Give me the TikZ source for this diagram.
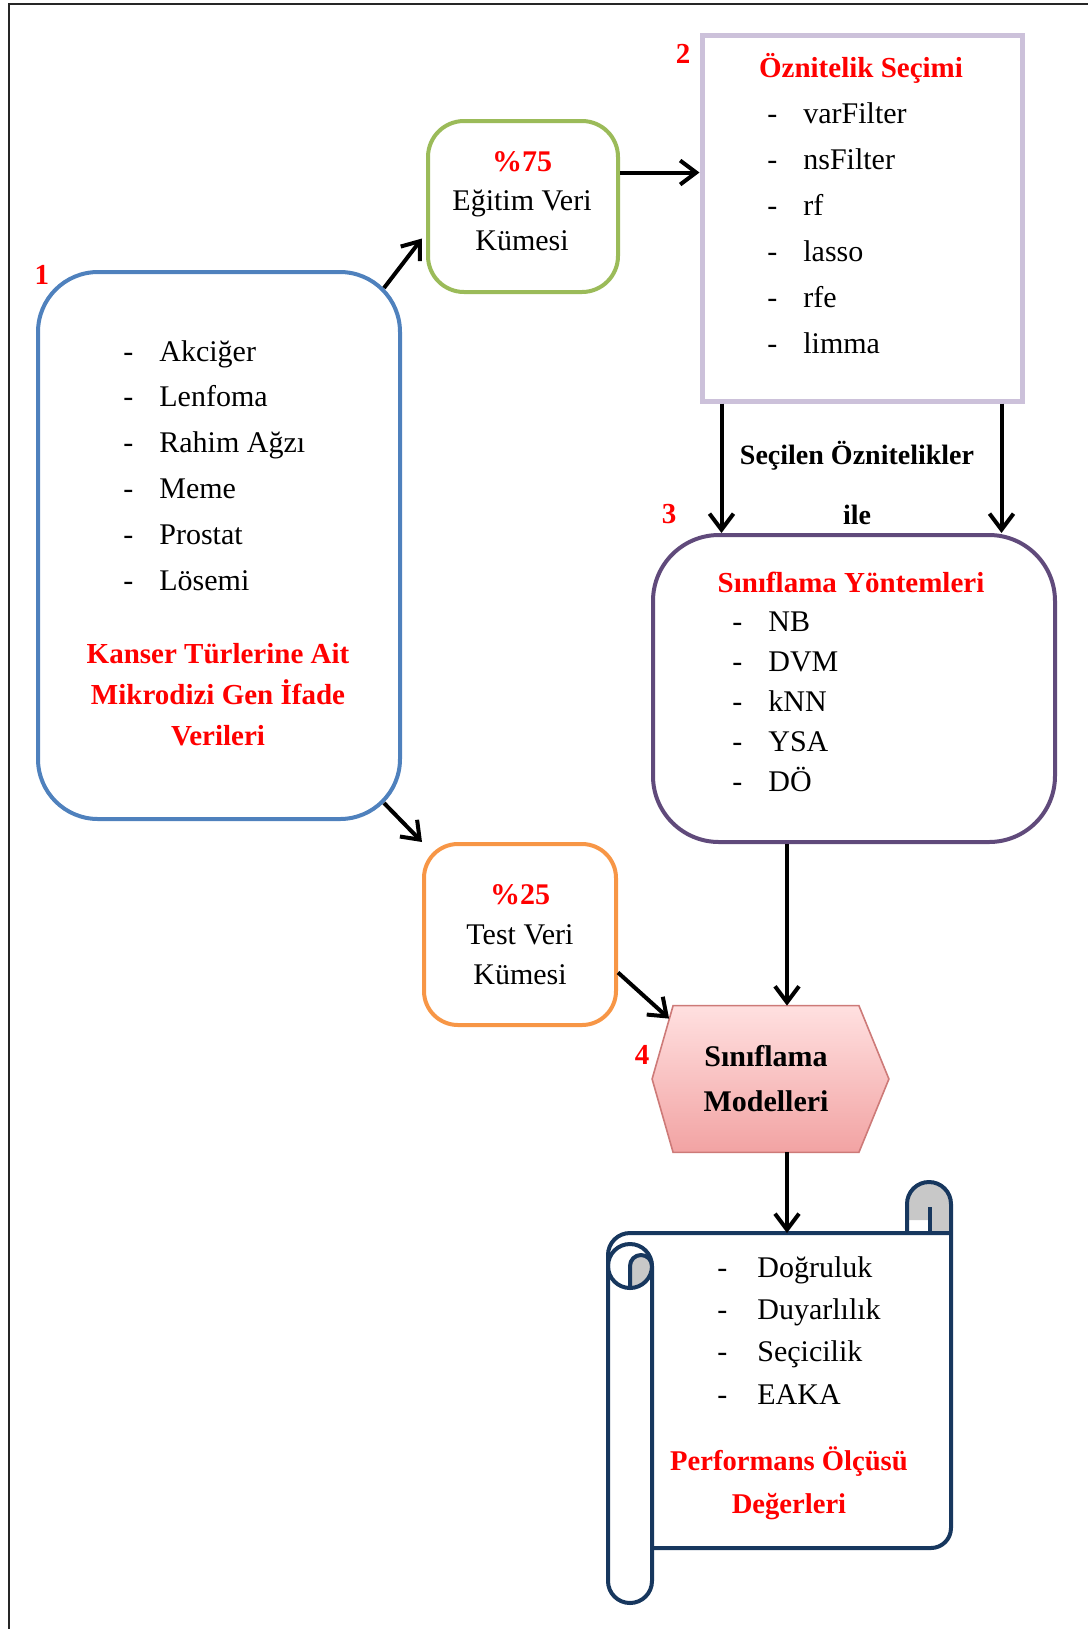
\documentclass[tikz,border=0pt]{standalone}
\usepackage{fontspec}
\setmainfont{Liberation Serif}
\usepackage{tikz}
\usetikzlibrary{arrows.meta,calc,backgrounds}
\usepackage{xcolor}

\definecolor{veriblue}{RGB}{79,129,189}
\definecolor{egitimgreen}{RGB}{155,187,89}
\definecolor{secimlav}{RGB}{204,193,218}
\definecolor{yontempurple}{RGB}{96,74,123}
\definecolor{testorange}{RGB}{247,150,70}
\definecolor{scrollnavy}{RGB}{23,55,94}
\definecolor{rollgray}{RGB}{200,200,200}
\definecolor{hextop}{RGB}{255,224,224}
\definecolor{hexbot}{RGB}{242,163,163}
\definecolor{hexline}{RGB}{205,122,120}

% dash list: dash column, then item
\newcommand{\maddeler}[2]{\begin{tabular}[t]{@{}p{#1}@{}l@{}}#2\end{tabular}}

\begin{document}
\begin{tikzpicture}[x=0.5pt, y=-0.5pt,
    arr/.style={-{Straight Barb[length=8pt,width=12pt]}, line width=2pt},
    txt/.style={inner sep=0pt, font=\fontsize{15}{20.5}\selectfont},
    redtitle/.style={inner sep=0pt, text=red, font=\bfseries\fontsize{14.5}{18.25}\selectfont},
    scrl/.style={draw=scrollnavy, line width=2pt, line join=round}]
    \useasboundingbox (0,0) rectangle (1088,1629);
    % frame
    \draw[line width=1pt, black!85] (9,1629) -- (9,4) -- (1088,4);

    % Veri
    \node[draw=veriblue, line width=2pt, rounded corners=30pt, minimum width=181pt, minimum height=273.5pt] (veri) at (219,545.5) {};
    \node[txt, anchor=base west, font=\fontsize{15}{22.9}\selectfont] (kanserlist) at (123,361) {\maddeler{18pt}{- & Akciğer\\ - & Lenfoma\\ - & Rahim Ağzı\\ - & Meme\\ - & Prostat\\ - & Lösemi}};
    \node[redtitle, anchor=base, font=\bfseries\fontsize{14.5}{20.5}\selectfont] (kansertitle) at (218,663) {\begin{tabular}[t]{@{}c@{}}Kanser Türlerine Ait\\ Mikrodizi Gen İfade\\ Verileri\end{tabular}};
    \node[redtitle] (no1) at (42,275) {1};

    % Egitim / Test
    \node[draw=egitimgreen, line width=2pt, rounded corners=18pt, minimum width=95pt, minimum height=85.5pt] (egitim) at (523,206.5) {};
    \node[align=center, inner sep=0pt, font=\fontsize{15}{19.75}\selectfont] (egitimtxt) at (522,201) {\textcolor{red}{\textbf{\%75}}\\ Eğitim Veri\\ Kümesi};
    \node[draw=testorange, line width=2pt, rounded corners=17pt, minimum width=96pt, minimum height=90.5pt, align=center, font=\fontsize{15}{20}\selectfont] (test) at (520,934.5) {\textcolor{red}{\textbf{\%25}}\\ Test Veri\\ Kümesi};

    % Oznitelik secimi
    \node[draw=secimlav, line width=2.5pt, minimum width=160pt, minimum height=183pt] (secim) at (862,218) {};
    \node[redtitle, anchor=base] (secimtitle) at (861,77) {Öznitelik Seçimi};
    \node[txt, anchor=base west, font=\fontsize{15}{23}\selectfont] (secimlist) at (767,123) {\maddeler{18pt}{- & varFilter\\ - & nsFilter\\ - & rf\\ - & lasso\\ - & rfe\\ - & limma}};
    \node[redtitle] (no2) at (683,54) {2};
    \node[inner sep=0pt, anchor=base, font=\bfseries\fontsize{14}{30}\selectfont] (secilen) at (857,464) {\begin{tabular}[t]{@{}c@{}}Seçilen Öznitelikler\\ ile\end{tabular}};

    % Siniflama yontemleri
    \node[draw=yontempurple, line width=2pt, rounded corners=33pt, minimum width=201pt, minimum height=153.5pt] (yontem) at (854,688.5) {};
    \node[redtitle, anchor=base] (yontemtitle) at (851,592) {Sınıflama Yöntemleri};
    \node[txt, anchor=base west, font=\fontsize{15}{20}\selectfont] (yontemlist) at (732,631) {\maddeler{18pt}{- & NB\\ - & DVM\\ - & kNN\\ - & YSA\\ - & DÖ}};
    \node[redtitle] (no3) at (669,514) {3};

    % Modeller
    \node[minimum width=92.5pt, minimum height=73pt, align=center, font=\bfseries\fontsize{15}{22.5}\selectfont] (model) at (766,1079) {Sınıflama\\ Modelleri};
    \begin{scope}[on background layer]
        \draw[hexline, line width=0.8pt, top color=hextop, bottom color=hexbot] (model.north west) -- (model.north east) -- ([xshift=15pt]model.east) -- (model.south east) -- (model.south west) -- ([xshift=-10.5pt]model.west) -- cycle;
    \end{scope}
    \node[redtitle] (no4) at (642,1055) {4};

    % Performans (scroll)
    \fill[rollgray] (907,1220) -- (907,1204) arc[start angle=180, end angle=360, radius=22] -- (951,1233) -- (930,1233) -- (930,1220) -- cycle;
    \fill[rollgray] (630,1266) arc[start angle=180, end angle=360, radius=11] arc[start angle=0, end angle=90, radius=22] -- cycle;
    \draw[scrl] (907,1233) -- (907,1204) arc[start angle=180, end angle=360, radius=22] -- (951,1528) arc[start angle=0, end angle=90, radius=20] -- (652,1548);
    \draw[scrl] (951,1233) -- (630,1233) arc[start angle=270, end angle=180, radius=22] -- (608,1581) arc[start angle=180, end angle=0, radius=22] -- (652,1266);
    \draw[scrl] (630,1266) circle[radius=22];
    \draw[scrl] (652,1266) arc[start angle=0, end angle=-180, radius=11] -- (630,1286);
    \draw[scrl] (930,1207) -- (930,1233);
    \coordinate (olcutop) at (787,1233);
    \node[txt, anchor=base west, font=\fontsize{15}{21.2}\selectfont] (olculist) at (717,1277) {\maddeler{20pt}{- & Doğruluk\\ - & Duyarlılık\\ - & Seçicilik\\ - & EAKA}};
    \node[redtitle, anchor=base, font=\bfseries\fontsize{14.3}{21.5}\selectfont] (olcutitle) at (789,1470) {\begin{tabular}[t]{@{}c@{}}Performans Ölçüsü\\ Değerleri\end{tabular}};

    % Arrows
    \draw[arr] ([shift={(-9pt,-9pt)}]veri.north east) -- ([shift={(-2pt,-16pt)}]egitim.west);
    \draw[arr] ([shift={(-9pt,9pt)}]veri.south east) -- (test.north west);
    \draw[arr] ([yshift=17pt]egitim.east) -- ([yshift=17pt]egitim.east -| secim.west);
    \draw[arr] ([xshift=11pt]secim.south west) -- ([xshift=11pt]secim.south west |- yontem.north);
    \draw[arr] ([xshift=-11.5pt]secim.south east) -- ([xshift=-11.5pt]secim.south east |- yontem.north);
    \draw[arr] ([xshift=-33.5pt]yontem.south) -- ([xshift=-33.5pt]yontem.south |- model.north);
    \draw[arr] ([yshift=-19pt]test.east) -- ([shift={(-2pt,-6.5pt)}]model.north west);
    \draw[arr] ([xshift=10.5pt]model.south) -- (olcutop);
\end{tikzpicture}
\end{document}
